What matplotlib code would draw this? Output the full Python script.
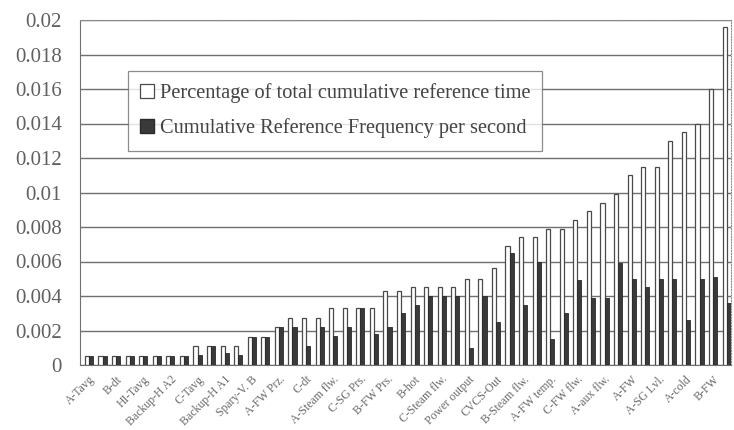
import numpy as np
import matplotlib
matplotlib.use('Agg')
import matplotlib.pyplot as plt
from matplotlib.patches import Patch

plt.rcParams['font.family'] = ['Liberation Serif', 'DejaVu Serif']

# every other group carries a label
tick_labels = ['A-Tavg', 'B-dt', 'HI-Tavg', 'Backup-H A2', 'C-Tavg', 'Backup-H A1',
               'Spary-V. B', 'A-FW Prz.', 'C-dt', 'A-Steam flw.', 'C-SG Prs.', 'B-FW Prs.',
               'B-hot', 'C-Steam flw.', 'Power output', 'CVCS-Out', 'B-Steam flw.',
               'A-FW temp.', 'C-FW flw.', 'A-aux flw.', 'A-FW', 'A-SG Lvl.', 'A-cold', 'B-FW']

pct_time = [0.00055, 0.00055, 0.00055, 0.00055, 0.00055, 0.00055, 0.00055, 0.00055,
            0.0011, 0.0011, 0.0011, 0.0011, 0.0016, 0.0016, 0.0022, 0.0027,
            0.0027, 0.0027, 0.0033, 0.0033, 0.0033, 0.0033, 0.0043, 0.0043,
            0.0045, 0.0045, 0.0045, 0.0045, 0.0050, 0.0050, 0.0056, 0.0069,
            0.0074, 0.0074, 0.0079, 0.0079, 0.0084, 0.0089, 0.0094, 0.0099,
            0.0110, 0.0115, 0.0115, 0.0130, 0.0135, 0.0140, 0.0160, 0.0196]

ref_freq = [0.0005, 0.0005, 0.0005, 0.0005, 0.0005, 0.0005, 0.0005, 0.0005,
            0.0006, 0.0011, 0.0007, 0.0006, 0.0016, 0.0016, 0.0022, 0.0022,
            0.0011, 0.0022, 0.0017, 0.0022, 0.0033, 0.0018, 0.0022, 0.0030,
            0.0035, 0.0040, 0.0040, 0.0040, 0.0010, 0.0040, 0.0025, 0.0065,
            0.0035, 0.0060, 0.0015, 0.0030, 0.0049, 0.0039, 0.0039, 0.0059,
            0.0050, 0.0045, 0.0050, 0.0050, 0.0026, 0.0050, 0.0051, 0.0036]

yticks = [0, 0.002, 0.004, 0.006, 0.008, 0.01, 0.012, 0.014, 0.016, 0.018, 0.02]
ytick_labels = ['0', '0.002', '0.004', '0.006', '0.008', '0.01', '0.012', '0.014',
                '0.016', '0.018', '0.02']

fig = plt.figure(figsize=(7.34, 4.30), dpi=100)
ax = fig.add_axes([80 / 734, 1 - 365 / 430, 651 / 734, 345 / 430])

x = np.arange(len(pct_time))
w = 0.3
ax.bar(x - w / 2, pct_time, w, color='white', edgecolor='#4a4a4a', linewidth=0.9, zorder=3)
ax.bar(x + w / 2, ref_freq, w, color='#3a3a3a', edgecolor='#2a2a2a', linewidth=0.6, zorder=3)

ax.set_xlim(-0.66, 47.32)
ax.set_ylim(0, 0.02)
ax.set_yticks(yticks)
ax.set_yticklabels(ytick_labels, fontsize=15, color='#606060')
ax.yaxis.grid(True, color='#707070', linewidth=1.0, zorder=0)
ax.set_axisbelow(True)

ax.set_xticks(x[::2])
ax.set_xticklabels(tick_labels, rotation=45, ha='right', rotation_mode='anchor',
                   fontsize=8.5, color='#6a6a6a')
ax.tick_params(axis='y', length=0, pad=13)
ax.tick_params(axis='x', length=0, pad=6)

for side in ['left', 'bottom']:
    ax.spines[side].set_color('#707070')
for side in ['top', 'right']:
    ax.spines[side].set_color('#909090')
    ax.spines[side].set_linestyle((0, (1, 1.5)))
    ax.spines[side].set_linewidth(0.8)

handles = [Patch(facecolor='white', edgecolor='#4a4a4a', linewidth=0.9),
           Patch(facecolor='#3a3a3a', edgecolor='#2a2a2a')]
leg = fig.legend(handles, ['Percentage of total cumulative reference time',
                           'Cumulative Reference Frequency per second'],
                 loc='upper left', bbox_to_anchor=(128 / 734, 1 - 71 / 430),
                 borderaxespad=0, fontsize=14.7, frameon=True, fancybox=False,
                 edgecolor='#707070', handlelength=0.65, handleheight=0.65,
                 handletextpad=0.3, labelspacing=0.75, borderpad=0.6,
                 labelcolor='#444444')
leg.get_frame().set_linewidth(0.9)

fig.savefig('out.png', dpi=100)
